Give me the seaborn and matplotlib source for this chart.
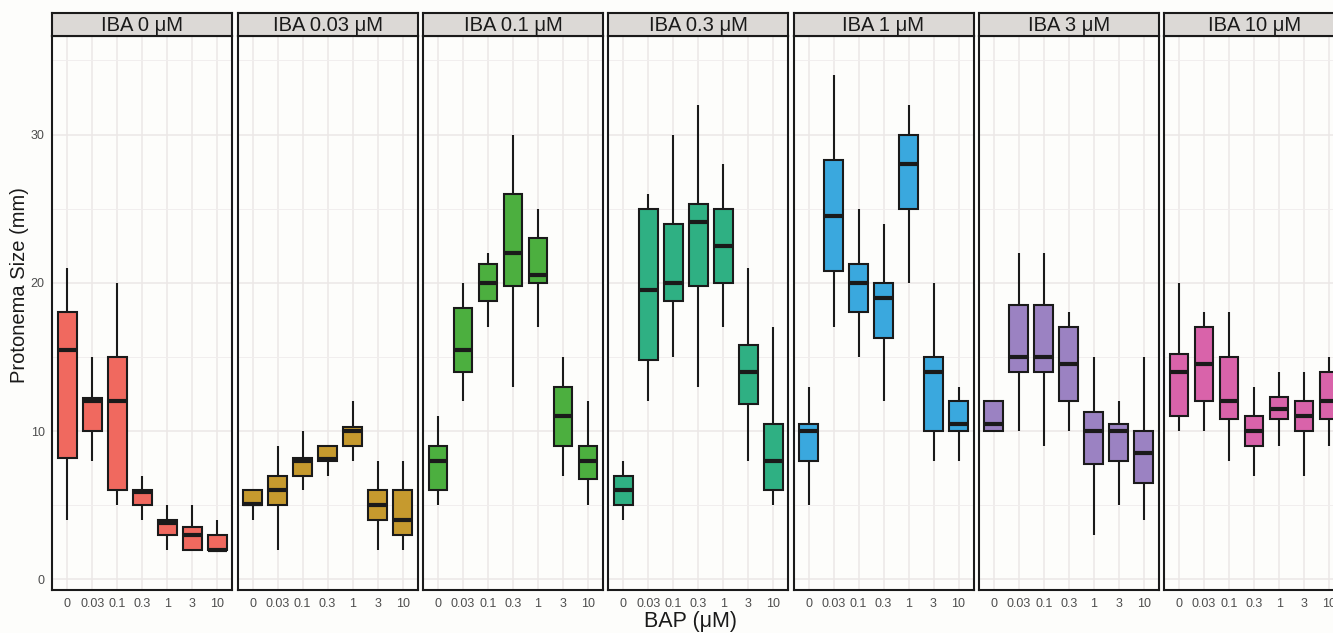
import numpy as np
import pandas as pd
import matplotlib
matplotlib.use("Agg")
import matplotlib.pyplot as plt
from matplotlib.ticker import MultipleLocator
import seaborn as sns

sns.set_style("white")
plt.rcParams['font.family'] = ['Liberation Sans', 'DejaVu Sans']

# BAP levels on x, one panel per IBA level
bap_labels = ['0', '0.03', '0.1', '0.3', '1', '3', '10']
iba_labels = ['IBA 0 μM', 'IBA 0.03 μM', 'IBA 0.1 μM', 'IBA 0.3 μM',
              'IBA 1 μM', 'IBA 3 μM', 'IBA 10 μM']
panel_colors = ['#F0695F', '#C69A2E', '#4CAF3F', '#2FB083',
                '#3AA8DE', '#9B82C2', '#D963AA']

# box summaries (rows = IBA, cols = BAP)
whisker_low = [
    [4, 8, 5, 4, 2, 2, 2],
    [4, 2, 6, 7, 8, 2, 2],
    [5, 12, 17, 13, 17, 7, 5],
    [4, 12, 15, 13, 17, 8, 5],
    [5, 17, 15, 12, 20, 8, 8],
    [10, 10, 9, 10, 3, 5, 4],
    [10, 10, 8, 7, 9, 7, 9],
]
q1 = [
    [8.2, 10, 6, 5, 3, 2, 2],
    [5, 5, 7, 8, 9, 4, 3],
    [6, 14, 18.8, 19.8, 20, 9, 6.8],
    [5, 14.8, 18.8, 19.8, 20, 11.8, 6],
    [8, 20.8, 18, 16.3, 25, 10, 10],
    [10, 14, 14, 12, 7.8, 8, 6.5],
    [11, 12, 10.8, 9, 10.8, 10, 10.8],
]
median = [
    [15.5, 12, 12, 5.9, 3.8, 3, 2],
    [5.1, 6, 8, 8.1, 10, 5, 4],
    [8, 15.5, 20, 22, 20.5, 11, 8],
    [6, 19.5, 20, 24.1, 22.5, 14, 8],
    [10, 24.5, 20, 19, 28, 14, 10.5],
    [10.5, 15, 15, 14.5, 10, 10, 8.5],
    [14, 14.5, 12, 10, 11.5, 11, 12],
]
q3 = [
    [18, 12.2, 15, 6, 4, 3.5, 3],
    [6, 7, 8.2, 9, 10.3, 6, 6],
    [9, 18.3, 21.3, 26, 23, 13, 9],
    [7, 25, 24, 25.3, 25, 15.8, 10.5],
    [10.5, 28.3, 21.3, 20, 30, 15, 12],
    [12, 18.5, 18.5, 17, 11.3, 10.5, 10],
    [15.2, 17, 15, 11, 12.3, 12, 14],
]
whisker_high = [
    [21, 15, 20, 7, 5, 5, 4],
    [6, 9, 10, 9, 12, 8, 8],
    [11, 20, 22, 30, 25, 15, 12],
    [8, 26, 30, 32, 28, 21, 17],
    [13, 34, 25, 24, 32, 20, 13],
    [12, 22, 22, 18, 15, 12, 15],
    [20, 18, 18, 13, 14, 14, 15],
]

# five points per group -> quartiles land exactly on the summary values
rows = []
for i, iba in enumerate(iba_labels):
    for j, bap in enumerate(bap_labels):
        for v in (whisker_low[i][j], q1[i][j], median[i][j], q3[i][j], whisker_high[i][j]):
            rows.append({'IBA': iba, 'BAP': bap, 'size': v})
df = pd.DataFrame(rows)

W, H = 1333, 633
fig = plt.figure(figsize=(W / 100, H / 100), dpi=100, facecolor='#fdfdfb')

panel_left0, pitch, panel_w = 52.3, 185.3, 180
panel_top, panel_bot = 36, 590
strip_top = 12.7

for i, iba in enumerate(iba_labels):
    left = panel_left0 + pitch * i
    ax = fig.add_axes([left / W, 1 - panel_bot / H, panel_w / W, (panel_bot - panel_top) / H])
    ax.set_facecolor('#fdfdfb')
    sub = df[df['IBA'] == iba]
    sns.boxplot(data=sub, x='BAP', y='size', order=bap_labels, color=panel_colors[i],
                saturation=1, width=0.75, whis=(0, 100), linecolor='#1a1a1a',
                linewidth=1.5, showcaps=False, showfliers=False,
                medianprops={'linewidth': 3.0, 'color': '#1a1a1a'}, ax=ax)
    ax.set_xlim(-0.6, 6.6)
    ax.set_ylim(-0.72, 36.65)
    ax.set_xlabel('')
    ax.set_ylabel('')
    ax.yaxis.set_major_locator(MultipleLocator(10))
    ax.yaxis.set_minor_locator(MultipleLocator(5))
    ax.set_axisbelow(True)
    ax.grid(which='major', color='#ece7e7', linewidth=1.1)
    ax.grid(which='minor', axis='y', color='#f1eeee', linewidth=0.7)
    for s in ax.spines.values():
        s.set_visible(True)
        s.set_color('#1a1a1a')
        s.set_linewidth(1.5)
    ax.tick_params(axis='x', length=3.5, width=1.0, color='#333333',
                   labelsize=9, labelcolor='#4d4d4d', pad=2)
    ax.tick_params(which='minor', length=0)
    if i == 0:
        ax.tick_params(axis='y', length=3.5, width=1.0, color='#333333',
                       labelsize=9, labelcolor='#4d4d4d', pad=2)
    else:
        ax.tick_params(axis='y', length=0, labelleft=False)

    # facet strip
    sax = fig.add_axes([left / W, 1 - panel_top / H, panel_w / W, (panel_top - strip_top) / H])
    sax.set_facecolor('#dcd9d6')
    sax.set_xticks([])
    sax.set_yticks([])
    for s in sax.spines.values():
        s.set_color('#1a1a1a')
        s.set_linewidth(1.5)
    sax.text(0.5, 0.45, iba, ha='center', va='center', fontsize=14.5,
             color='#1a1a1a', transform=sax.transAxes)

fig.text(20 / W, 1 - 285 / H, 'Protonema Size (mm)', rotation=90,
         ha='center', va='center', fontsize=14.5, color='#1a1a1a')
fig.text(691 / W, 1 - 621 / H, 'BAP (μM)', ha='center', va='center',
         fontsize=15.5, color='#1a1a1a')

fig.savefig('out.png', dpi=100, facecolor=fig.get_facecolor())
